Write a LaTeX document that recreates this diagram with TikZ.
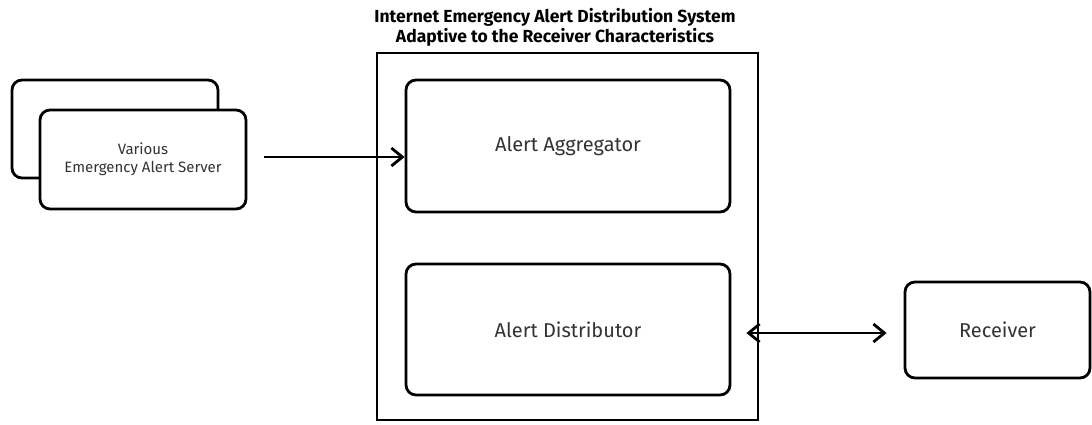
\documentclass[tikz,border=0pt]{standalone}
\usepackage{fontspec}
\setmainfont{Fira Sans}
\usetikzlibrary{arrows.meta}
\begin{document}
\begin{tikzpicture}[x=1pt,y=-1pt,
  box/.style={draw=black, line width=2.8pt, rounded corners=10pt, fill=white, inner sep=0pt, text=black!80, align=center},
  conn/.style={line width=2.8pt, -{Straight Barb[length=11pt,width=18pt,line width=2.8pt]}},
  dconn/.style={line width=2.8pt, {Straight Barb[length=11pt,width=18pt,line width=2.8pt]}-{Straight Barb[length=11pt,width=18pt,line width=2.8pt]}}]
\useasboundingbox (0,0) rectangle (1092,424);
\node[box, minimum width=206pt, minimum height=98pt] (back) at (115,129) {};
\node[box, minimum width=206pt, minimum height=99pt, font=\fontsize{15}{18}\selectfont] (front) at (143,159.5) {Various\\Emergency Alert Server};
\node[draw=black, line width=2.8pt, minimum width=381pt, minimum height=367pt, inner sep=0pt] (sys) at (567.5,236.5) {};
\node[align=center, font=\fontsize{17.5}{20}\selectfont\bfseries] (title) at (555,27) {Internet Emergency Alert Distribution System\\Adaptive to the Receiver Characteristics};
\node[box, minimum width=324pt, minimum height=132pt, font=\fontsize{20}{24}\selectfont] (agg) at (568,146) {Alert Aggregator};
\node[box, minimum width=324pt, minimum height=131pt, font=\fontsize{20}{24}\selectfont] (dist) at (568,329.5) {Alert Distributor};
\node[box, minimum width=185pt, minimum height=96pt, font=\fontsize{20}{24}\selectfont] (recv) at (997.5,330) {Receiver};
\coordinate (a1) at ([xshift=17pt,yshift=2.5pt]front.east);
\draw[conn] (a1) -- (a1 -| agg.west);
\coordinate (b1) at ([xshift=15pt,yshift=-3.5pt]dist.east);
\coordinate (b2) at ([xshift=-17pt]b1 -| recv.west);
\draw[dconn] (b1) -- (b2);
\end{tikzpicture}
\end{document}
